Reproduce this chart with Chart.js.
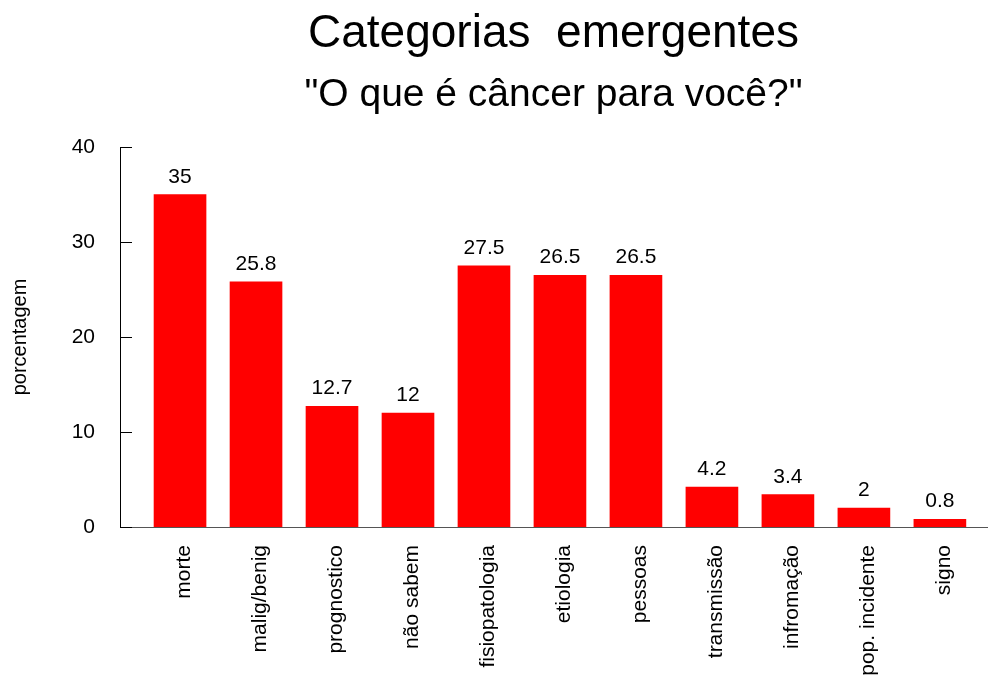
<!DOCTYPE html>
<html>
<head>
<meta charset="utf-8">
<script src="https://cdn.jsdelivr.net/npm/chart.js@4"></script>
<style>
  html, body { margin: 0; padding: 0; background: #fff; }
  #wrap { width: 988px; height: 691px; }
</style>
</head>
<body>
<div id="wrap"><canvas id="chart" width="988" height="691"></canvas></div>
<script>
const categories = ["morte", "malig/benig", "prognostico", "não sabem", "fisiopatologia", "etiologia", "pessoas", "transmissão", "infromação", "pop. incidente", "signo"];
const percentages = [35, 25.8, 12.7, 12, 27.5, 26.5, 26.5, 4.2, 3.4, 2, 0.8];
const yTicks = [0, 10, 20, 30, 40];
const titleText = "Categorias  emergentes";
const subtitleText = "\"O que é câncer para você?\"";
const yTitle = "porcentagem";

const FONT = "'Liberation Sans', Arial, sans-serif";

// value labels over each bar
const barLabels = {
  id: "barLabels",
  afterDatasetsDraw(chart) {
    const ctx = chart.ctx;
    const meta = chart.getDatasetMeta(0);
    ctx.save();
    ctx.font = "21px " + FONT;
    ctx.fillStyle = "#000";
    ctx.textAlign = "center";
    ctx.textBaseline = "alphabetic";
    meta.data.forEach((bar, i) => {
      ctx.fillText(String(percentages[i]), bar.x, bar.y - 12);
    });
    ctx.restore();
  }
};

// tick marks pointing into the plot
const innerTicks = {
  id: "innerTicks",
  afterDraw(chart) {
    const ctx = chart.ctx;
    const y = chart.scales.y;
    const left = chart.chartArea.left;
    ctx.save();
    ctx.strokeStyle = "#000";
    ctx.lineWidth = 1;
    y.ticks.forEach((t) => {
      const py = Math.round(y.getPixelForValue(t.value)) + 0.5;
      ctx.beginPath();
      ctx.moveTo(left, py);
      ctx.lineTo(left + 12, py);
      ctx.stroke();
    });
    ctx.restore();
  }
};

new Chart(document.getElementById("chart"), {
  type: "bar",
  data: {
    datasets: [{
      data: percentages.map((v, i) => ({ x: i, y: v })),
      backgroundColor: "#ff0000",
      borderWidth: 0,
      barThickness: 52
    }]
  },
  options: {
    responsive: false,
    animation: false,
    layout: { padding: { left: 0, right: 1, top: 0, bottom: 0 } },
    plugins: {
      legend: { display: false },
      tooltip: { enabled: false },
      title: {
        display: true,
        text: titleText,
        fullSize: false,
        color: "#000",
        font: { family: FONT, size: 46, weight: "normal", lineHeight: 1.2 },
        padding: { top: 7, bottom: 3 }
      },
      subtitle: {
        display: true,
        text: subtitleText,
        fullSize: false,
        color: "#000",
        font: { family: FONT, size: 39, weight: "normal", lineHeight: 1.2 },
        padding: { top: 7, bottom: 28 }
      }
    },
    scales: {
      x: {
        type: "linear",
        offset: false,
        min: -0.79,
        max: 10.62,
        grid: { display: false, drawTicks: false },
        border: { display: true, color: "#555", width: 1 },
        afterBuildTicks(scale) {
          scale.ticks = categories.map((_, i) => ({ value: i }));
        },
        afterFit(scale) { scale.height = 164; },
        ticks: {
          autoSkip: false,
          minRotation: 90,
          maxRotation: 90,
          padding: 18,
          labelOffset: 4,
          color: "#000",
          font: { family: FONT, size: 21 },
          callback: (v) => categories[v]
        }
      },
      y: {
        min: 0,
        max: 40,
        grid: { display: false, drawTicks: false },
        border: { display: true, color: "#000", width: 1 },
        afterBuildTicks(scale) {
          scale.ticks = yTicks.map((v) => ({ value: v }));
        },
        afterFit(scale) { scale.width = 120; },
        ticks: {
          padding: 25,
          color: "#000",
          font: { family: FONT, size: 21 }
        },
        title: {
          display: true,
          text: yTitle,
          color: "#000",
          font: { family: FONT, size: 20 },
          padding: { top: 8, bottom: 0 }
        }
      }
    }
  },
  plugins: [barLabels, innerTicks]
});
</script>
</body>
</html>
